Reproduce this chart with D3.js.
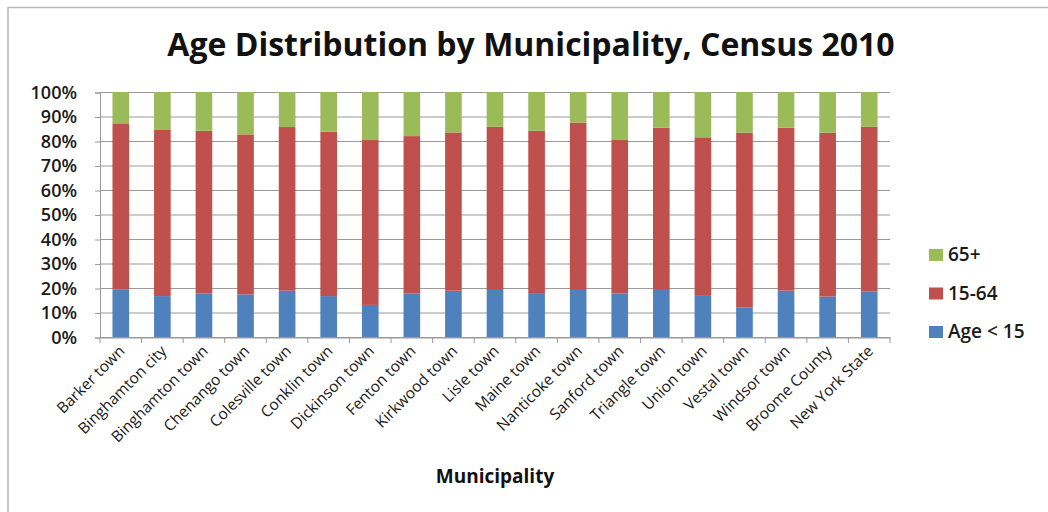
<!DOCTYPE html>
<html>
<head>
<meta charset="utf-8">
<script src="https://cdn.jsdelivr.net/npm/d3@7"></script>
<style>
  body { margin: 0; background: #fff; }
  svg { display: block; font-family: "Open Sans", sans-serif; }
</style>
</head>
<body>
<div id="chart"></div>
<script>
var municipalities = ['Barker town', 'Binghamton city', 'Binghamton town', 'Chenango town',
  'Colesville town', 'Conklin town', 'Dickinson town', 'Fenton town', 'Kirkwood town',
  'Lisle town', 'Maine town', 'Nanticoke town', 'Sanford town', 'Triangle town',
  'Union town', 'Vestal town', 'Windsor town', 'Broome County', 'New York State'];

// percent of population in each group
var under15 = [19.5, 16.7, 17.8, 17.4, 18.9, 16.7, 13.1, 17.8, 18.9, 19.2,
  17.6, 19.2, 17.8, 19.2, 17.1, 12.0, 18.9, 16.5, 18.5];
var age15to64 = [67.7, 67.8, 66.4, 65.3, 66.8, 67.1, 67.3, 64.2, 64.6, 66.6,
  66.6, 68.3, 62.6, 66.2, 64.4, 71.4, 66.5, 66.9, 67.3];
var age65plus = [12.8, 15.5, 15.8, 17.3, 14.3, 16.2, 19.6, 18.0, 16.5, 14.2,
  15.8, 12.5, 19.6, 14.6, 18.5, 16.6, 14.6, 16.6, 14.2];

var seriesNames = ['Age < 15', '15-64', '65+'];
var seriesColors = ['#4f81bd', '#c0504d', '#9bbb59'];
var yTicks = [0, 10, 20, 30, 40, 50, 60, 70, 80, 90, 100];

var width = 1048, height = 512;
var plotLeft = 100, plotRight = 890, plotTop = 92, plotBottom = 337;

var rows = municipalities.map(function(name, i) {
  return { name: name, a: under15[i], b: age15to64[i], c: age65plus[i] };
});

var stack = d3.stack().keys(['a', 'b', 'c']);
var layers = stack(rows);

var x = d3.scaleBand()
  .domain(municipalities)
  .range([plotLeft, plotRight]);

var y = d3.scaleLinear()
  .domain([0, 100])
  .range([plotBottom, plotTop]);

var svg = d3.select('#chart')
  .append('svg')
  .attr('width', width)
  .attr('height', height);

// chart frame
svg.append('rect')
  .attr('x', 8)
  .attr('y', 7.5)
  .attr('width', width + 20)
  .attr('height', height + 20)
  .attr('fill', 'none')
  .attr('stroke', '#b8b8b8')
  .attr('stroke-width', 1.5);

svg.append('text')
  .attr('x', 531)
  .attr('y', 56)
  .attr('text-anchor', 'middle')
  .attr('font-size', 32)
  .attr('font-weight', 'bold')
  .attr('fill', '#111')
  .text('Age Distribution by Municipality, Census 2010');

// gridlines
svg.append('g')
  .selectAll('line')
  .data(yTicks)
  .enter()
  .append('line')
  .attr('x1', plotLeft)
  .attr('x2', plotRight)
  .attr('y1', function(d) { return y(d) + 0.5; })
  .attr('y2', function(d) { return y(d) + 0.5; })
  .attr('stroke', '#9a9a9a')
  .attr('stroke-width', 1.2);

// y axis
var yAxis = svg.append('g')
  .attr('transform', 'translate(' + plotLeft + ',0.5)')
  .call(d3.axisLeft(y).tickValues(yTicks).tickSize(5).tickPadding(18)
    .tickFormat(function(d) { return d + '%'; }));
yAxis.select('.domain').attr('stroke', '#9a9a9a');
yAxis.selectAll('.tick line').attr('stroke', '#9a9a9a');
yAxis.selectAll('text')
  .attr('font-size', 18)
  .attr('font-weight', 600)
  .attr('font-family', '"Open Sans", sans-serif')
  .attr('fill', '#1a1a1a');

// bars
var barW = x.bandwidth() * 0.4;
svg.append('g')
  .selectAll('g')
  .data(layers)
  .enter()
  .append('g')
  .attr('fill', function(d, i) { return seriesColors[i]; })
  .selectAll('rect')
  .data(function(d) { return d; })
  .enter()
  .append('rect')
  .attr('x', function(d) { return x(d.data.name) + (x.bandwidth() - barW) / 2; })
  .attr('y', function(d) { return y(d[1]); })
  .attr('width', barW)
  .attr('height', function(d) { return y(d[0]) - y(d[1]); });

// x axis
var xAxis = svg.append('g')
  .attr('transform', 'translate(0,' + (plotBottom + 0.5) + ')')
  .call(d3.axisBottom(x).tickSize(0).tickFormat(''));
xAxis.select('.domain').attr('stroke', '#9a9a9a');

svg.append('g')
  .selectAll('line')
  .data(d3.range(municipalities.length + 1))
  .enter()
  .append('line')
  .attr('x1', function(d) { return plotLeft + d * x.step(); })
  .attr('x2', function(d) { return plotLeft + d * x.step(); })
  .attr('y1', plotBottom)
  .attr('y2', plotBottom + 6)
  .attr('stroke', '#9a9a9a');

svg.append('g')
  .selectAll('text')
  .data(municipalities)
  .enter()
  .append('text')
  .attr('transform', function(d) {
    var cx = x(d) + x.bandwidth() / 2 + 5;
    return 'translate(' + cx + ',' + (plotBottom + 15) + ') rotate(-45)';
  })
  .attr('text-anchor', 'end')
  .attr('font-size', 15.5)
  .attr('fill', '#1a1a1a')
  .text(function(d) { return d; });

svg.append('text')
  .attr('x', 495)
  .attr('y', 483)
  .attr('text-anchor', 'middle')
  .attr('font-size', 19)
  .attr('font-weight', 'bold')
  .attr('fill', '#111')
  .text('Municipality');

// legend, 65+ on top
var legend = svg.append('g')
  .selectAll('g')
  .data([2, 1, 0])
  .enter()
  .append('g')
  .attr('transform', function(d, i) { return 'translate(929,' + (249 + i * 38.5) + ')'; });

legend.append('rect')
  .attr('width', 14)
  .attr('height', 12)
  .attr('fill', function(d) { return seriesColors[d]; });

legend.append('text')
  .attr('x', 19)
  .attr('y', 12)
  .attr('font-size', 19)
  .attr('font-weight', 600)
  .attr('fill', '#1a1a1a')
  .text(function(d) { return seriesNames[d]; });
</script>
</body>
</html>
